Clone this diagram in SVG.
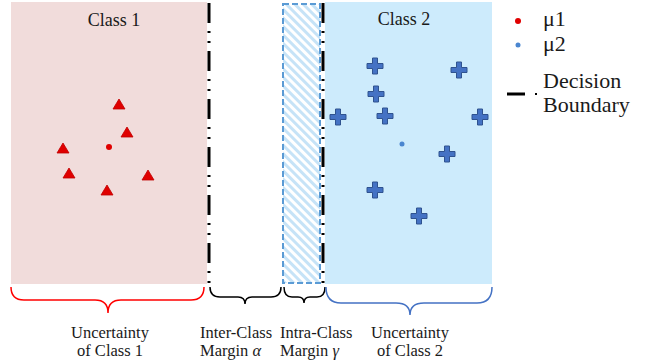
<svg xmlns="http://www.w3.org/2000/svg" width="665" height="363" viewBox="0 0 665 363">
<style>
.lbl{font-family:"Liberation Serif","DejaVu Serif",serif;fill:#1a1a1a}
.cls{font-size:18px}
.leg{font-size:22px}
.sm{font-size:16.5px}
.db{stroke:#000;stroke-width:3;stroke-dasharray:20 8 2 8 2 8;fill:none}
.brace{fill:none;stroke-width:1.5}
.tri{fill:#E00000;stroke:#C00000;stroke-width:0.8}
.plus{fill:#4472C4;stroke:#2F528F;stroke-width:1}
</style>
<defs>
<pattern id="hatch" width="6" height="6" patternUnits="userSpaceOnUse" patternTransform="rotate(-45)">
<rect x="0" y="0" width="3" height="6" fill="#C6E3F7"/>
</pattern>
<polygon id="tri" class="tri" points="0,-5 6,5 -6,5"/>
<path id="plus" class="plus" d="M-2.5,-8 H2.5 V-2.5 H8 V2.5 H2.5 V8 H-2.5 V2.5 H-8 V-2.5 H-2.5 Z"/>
</defs>
<rect width="665" height="363" fill="#fff"/>
<g id="class1">
<rect x="11" y="2" width="196" height="282" fill="#F1DCDB"/>
<text class="lbl cls" x="114" y="26" text-anchor="middle">Class 1</text>
</g>
<g id="intra-margin">
<rect x="283" y="4" width="37" height="279" fill="#fff"/>
<rect x="283" y="4" width="37" height="279" fill="url(#hatch)" stroke="#5B9BD5" stroke-width="2" stroke-dasharray="6 3"/>
</g>
<g id="class2">
<rect x="325" y="2" width="167" height="282" fill="#CDEBFC"/>
<text class="lbl cls" x="404" y="25" text-anchor="middle">Class 2</text>
</g>
<g id="boundaries">
<line class="db" x1="209" y1="3" x2="209" y2="284"/>
<line class="db" x1="323" y1="3" x2="323" y2="284"/>
</g>
<g id="class1-points">
<use href="#tri" x="119" y="104"/>
<use href="#tri" x="127" y="132"/>
<use href="#tri" x="63" y="148"/>
<use href="#tri" x="69" y="173"/>
<use href="#tri" x="148" y="175"/>
<use href="#tri" x="107" y="190"/>
<circle cx="109" cy="147" r="3" fill="#E00000"/>
</g>
<g id="class2-points">
<use href="#plus" x="375" y="66"/>
<use href="#plus" x="459" y="70"/>
<use href="#plus" x="376" y="94"/>
<use href="#plus" x="338" y="117"/>
<use href="#plus" x="385" y="116"/>
<use href="#plus" x="480" y="117"/>
<use href="#plus" x="447" y="154"/>
<use href="#plus" x="375" y="190"/>
<use href="#plus" x="419" y="216"/>
<circle cx="402" cy="144" r="2.5" fill="#4A86D0"/>
</g>
<g id="legend">
<circle cx="518" cy="21" r="3" fill="#E00000"/>
<text class="lbl leg" x="543" y="26">μ1</text>
<circle cx="518" cy="45" r="2.5" fill="#4A86D0"/>
<text class="lbl leg" x="543" y="51">μ2</text>
<line x1="507" y1="94" x2="525" y2="94" stroke="#000" stroke-width="3"/>
<rect x="535" y="93" width="2" height="2" fill="#000"/>
<text class="lbl leg" x="543" y="88">Decision</text>
<text class="lbl leg" x="543" y="112">Boundary</text>
</g>
<g id="braces">
<path class="brace" stroke="#FF0000" d="M11,287 Q11,300 24,300 H95 Q108,300 108,313 Q108,300 121,300 H191 Q204,300 204,287"/>
<path class="brace" stroke="#000" d="M210,287 Q210,297 220,297 H238 Q245,297 245,304 Q245,297 252,297 H271 Q281,297 281,287"/>
<path class="brace" stroke="#000" d="M284,287 Q284,297 292,297 H298 Q304,297 304,303 Q304,297 310,297 H317 Q325,297 325,287"/>
<path class="brace" stroke="#4472C4" d="M326,287 Q326,303 341,303 H396 Q410,303 410,315 Q410,303 424,303 H477 Q492,303 492,287"/>
</g>
<g id="labels">
<text class="lbl sm" x="110" y="338" text-anchor="middle">Uncertainty</text>
<text class="lbl sm" x="110" y="356" text-anchor="middle">of Class 1</text>
<text class="lbl sm" x="200" y="338">Inter-Class</text>
<text class="lbl sm" x="200" y="356">Margin <tspan font-style="italic">α</tspan></text>
<text class="lbl sm" x="280" y="338">Intra-Class</text>
<text class="lbl sm" x="280" y="356">Margin <tspan font-style="italic">γ</tspan></text>
<text class="lbl sm" x="410" y="338" text-anchor="middle">Uncertainty</text>
<text class="lbl sm" x="410" y="356" text-anchor="middle">of Class 2</text>
</g>
</svg>
